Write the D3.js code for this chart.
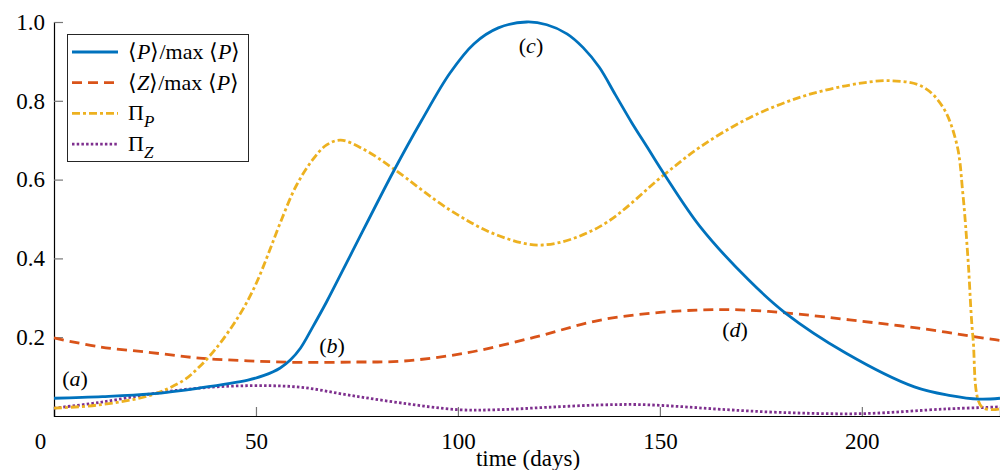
<!DOCTYPE html>
<meta charset="utf-8">
<style>
  body { margin: 0; background: #fff; }
  text { font-family: "Liberation Serif", "Times New Roman", serif; fill: #000; }
</style>
<body>
<script src="https://d3js.org/d3.v7.min.js"></script>
<script>
// values: [day, value]
var phyto = [[0,0.045],[12,0.049],[24,0.056],[36,0.071],[48,0.091],[52,0.103],[56,0.122],[58.5,0.142],
  [61,0.172],[64,0.225],[67.5,0.29],[73,0.40],[84,0.62],[91,0.75],[98,0.87],[104,0.945],[110,0.985],
  [117,1.0],[122,0.993],[127,0.97],[131,0.935],[135,0.885],[139,0.815],[143,0.745],[147,0.68],[151,0.615],
  [160,0.48],[172,0.345],[181,0.262],[196,0.16],[213,0.074],[222,0.052],[229,0.043],[234.2,0.045]];
var zoo = [[0,0.198],[11,0.176],[24,0.161],[36,0.147],[48,0.14],[61,0.136],[75,0.137],[86,0.139],
  [102,0.16],[119,0.2],[135,0.243],[150,0.263],[160,0.269],[168,0.27],[176,0.266],[185,0.258],
  [197,0.244],[214,0.223],[232,0.195],[234.2,0.192]];
var piP = [[0,0.02],[11,0.028],[24,0.053],[32,0.09],[36,0.125],[40,0.17],[44,0.226],[47,0.275],[50,0.335],
  [53,0.41],[56,0.49],[60,0.585],[64,0.65],[67.5,0.688],[71,0.70],[77,0.675],[84,0.628],[98,0.523],
  [110,0.458],[121,0.434],[135,0.48],[151,0.612],[160,0.683],[172,0.756],[185,0.81],[197,0.84],
  [207,0.851],[215,0.836],[220,0.785],[223.5,0.69],[225,0.565],[226.3,0.395],[227.5,0.2],
  [229.7,0.023],[234.2,0.018]];
var piZ = [[0,0.02],[11,0.034],[24,0.056],[36,0.071],[49,0.077],[61,0.073],[73,0.053],[86,0.033],
  [100,0.016],[110,0.016],[122,0.022],[135,0.028],[145,0.029],[155,0.024],[165,0.017],[180,0.009],
  [200,0.006],[221,0.018],[234.2,0.023]];

var xTicks = [0, 50, 100, 150, 200];
var yTicks = [0.2, 0.4, 0.6, 0.8, 1.0];
var notes = [["a", 75, 386], ["b", 332, 353], ["c", 531, 53], ["d", 735, 337]];

var W = 1000, H = 470;
var margin = {top: 22, right: 0, bottom: 54, left: 54};
var width = W - margin.left - margin.right,
    height = H - margin.top - margin.bottom;

var x = d3.scaleLinear().domain([0, 234.2]).range([0, width]);
var y = d3.scaleLinear().domain([0, 1]).range([height, 0]);

var svg = d3.select("body").append("svg").attr("width", W).attr("height", H);
var g = svg.append("g").attr("transform", "translate(" + margin.left + "," + margin.top + ")");

// axes, ticks pointing inward
var xAxis = g.append("g").attr("transform", "translate(0," + height + ")")
  .call(d3.axisBottom(x).tickValues(xTicks).tickSize(-9).tickPadding(17).tickFormat(d3.format("d")));
var yAxis = g.append("g")
  .call(d3.axisLeft(y).tickValues(yTicks).tickSize(-9).tickPadding(9).tickFormat(d3.format(".1f")));
[xAxis, yAxis].forEach(function(a) {
  a.select(".domain").attr("stroke", "#000").attr("stroke-width", 1.2);
  a.selectAll(".tick line").attr("stroke", "#777").attr("stroke-width", 1.2);
  a.selectAll(".tick text").style("font-size", "23px").attr("fill", "#000")
    .style("font-family", "Liberation Serif");
});
xAxis.selectAll(".tick text").filter(function(d) { return d === 0; }).attr("dx", -14);

svg.append("text").attr("x", 528).attr("y", 466).attr("text-anchor", "middle")
  .style("font-size", "23px").text("time (days)");

var line = d3.line().curve(d3.curveCatmullRom.alpha(0.5))
  .x(function(d) { return x(d[0]); }).y(function(d) { return y(d[1]); });

var series = [
  {data: piZ, color: "#7E2F8E", dash: "2.5,2.2", w: 2.8},
  {data: zoo, color: "#D95319", dash: "10,6", w: 2.8},
  {data: piP, color: "#EDB120", dash: "8,3,3,3", w: 2.8},
  {data: phyto, color: "#0072BD", dash: null, w: 2.8}
];
series.forEach(function(s) {
  g.append("path").datum(s.data).attr("d", line)
    .attr("fill", "none").attr("stroke", s.color).attr("stroke-width", s.w)
    .attr("stroke-dasharray", s.dash);
});

// panel letters
notes.forEach(function(n) {
  var t = svg.append("text").attr("x", n[1]).attr("y", n[2]).attr("text-anchor", "middle")
    .style("font-size", "22px");
  t.append("tspan").text("(");
  t.append("tspan").style("font-style", "italic").text(n[0]);
  t.append("tspan").text(")");
});

// legend
var leg = svg.append("g");
leg.append("rect").attr("x", 67.5).attr("y", 34.5).attr("width", 181).attr("height", 127)
  .attr("fill", "#fff").attr("stroke", "#262626").attr("stroke-width", 1);
var legItems = [
  {s: series[3], parts: [["⟨"], ["P", 1], ["⟩/max ⟨"], ["P", 1], ["⟩"]]},
  {s: series[1], parts: [["⟨"], ["Z", 1], ["⟩/max ⟨"], ["P", 1], ["⟩"]]},
  {s: series[2], parts: [["Π"], ["P", 1, 1]]},
  {s: series[0], parts: [["Π"], ["Z", 1, 1]]}
];
legItems.forEach(function(it, i) {
  var cy = 52 + i * 30.7;
  leg.append("line").attr("x1", 72).attr("x2", 118).attr("y1", cy).attr("y2", cy)
    .attr("stroke", it.s.color).attr("stroke-width", it.s.w).attr("stroke-dasharray", it.s.dash);
  var t = leg.append("text").attr("x", 128).attr("y", cy + 7).style("font-size", "22px");
  it.parts.forEach(function(p) {
    var ts = t.append("tspan").text(p[0]);
    if (p[1]) ts.style("font-style", "italic");
    if (p[2]) ts.attr("dy", 7).style("font-size", "17px");
  });
});
</script>
</body>
